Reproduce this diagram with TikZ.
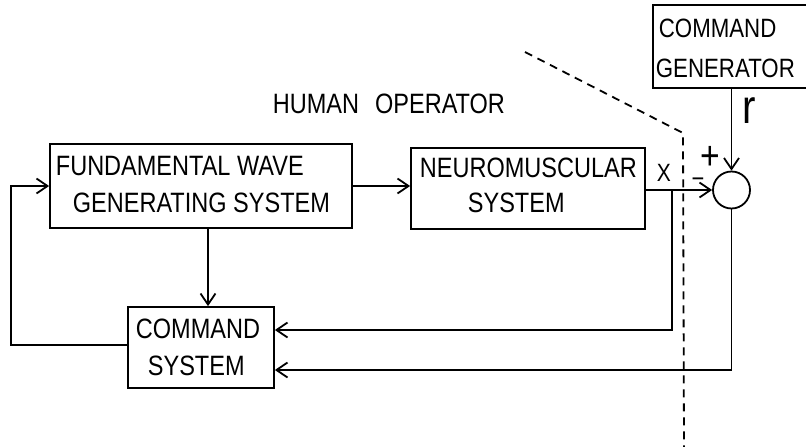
\documentclass[tikz,border=0pt]{standalone}
\usepackage{fontspec}
\setmainfont{Liberation Sans}[FakeStretch=0.84]
\usetikzlibrary{arrows.meta,calc}

\begin{document}
\begin{tikzpicture}[x=1pt,y=-1pt,line width=1.8pt,
  blockbox/.style={draw,rectangle,inner sep=0},
  txt/.style={inner sep=0,anchor=base west,font=\fontsize{28}{30}\selectfont},
  sign/.style={inner sep=0,anchor=base},
  arr/.style={-{Straight Barb[length=11pt,width=15pt]}},
  sidedash/.style={dash pattern=on 8pt off 6pt,line width=1.8pt}]

\useasboundingbox (0,0) rectangle (806,447);

% blocks
\node[blockbox,minimum width=302pt,minimum height=84pt] (fw) at (201,186) {};
\node[blockbox,minimum width=234pt,minimum height=81pt] (nm) at (528,188.5) {};
\node[blockbox,minimum width=146pt,minimum height=81pt] (cs) at (201,347.5) {};
\node[blockbox,minimum width=155pt,minimum height=83pt] (cg) at (730.5,46.5) {};
\node[draw,circle,minimum size=37pt,inner sep=0] (sum) at (731.5,190) {};

% block texts
\node[txt] (fw1) at (55,175) {FUNDAMENTAL WAVE};
\node[txt] (fw2) at (72,212) {GENERATING SYSTEM};
\node[txt] (nm1) at (419,177) {NEUROMUSCULAR};
\node[txt] (nm2) at (467,212) {SYSTEM};
\node[txt] (cs1) at (135,338) {COMMAND};
\node[txt] (cs2) at (147,375) {SYSTEM};
\node[txt,font=\fontsize{26.5}{28}\selectfont] (cg1) at (658,37) {COMMAND};
\node[txt,font=\fontsize{26.5}{28}\selectfont] (cg2) at (655,77) {GENERATOR};
\node[txt] (ho) at (272,113) {HUMAN\hspace{16pt}OPERATOR};

% signal labels
\node[txt,font=\fontsize{25}{26}\selectfont] (xlab) at (656,181) {X};
\node[txt,font=\fontsize{48}{50}\selectfont] (rlab) at (742,123) {r};
\node[sign,font=\fontsize{40}{42}\selectfont] (plus) at (710,169) {+};
\node[sign,font=\fontsize{26}{28}\selectfont] (minus) at (698,187) {\char"2212};

% boundary of the human operator
\coordinate (d0) at (525,52);
\coordinate (d1) at (683,133);
\coordinate (d2) at (684,447);
\draw[sidedash] (d0) -- (d1) -- (d2);

% signal flow
\draw[arr] (cg.south -| sum.north) -- (sum.north);
\draw[arr] (fw.east) -- (nm.west |- fw.east);
\draw[arr] (nm.east |- sum.west) -- (sum.west);
\coordinate (br) at (672,190);
\draw[arr] (br) |- ([yshift=17.5pt]cs.east);
\draw[arr] (sum.south) |- ([yshift=-22.5pt]cs.east);
\draw[arr] ([xshift=7pt]fw.south) -- ([xshift=7pt]cs.north);
\draw[arr] ([yshift=2.5pt]cs.west) -- ++(-116,0) |- (fw.west);

\end{tikzpicture}
\end{document}
